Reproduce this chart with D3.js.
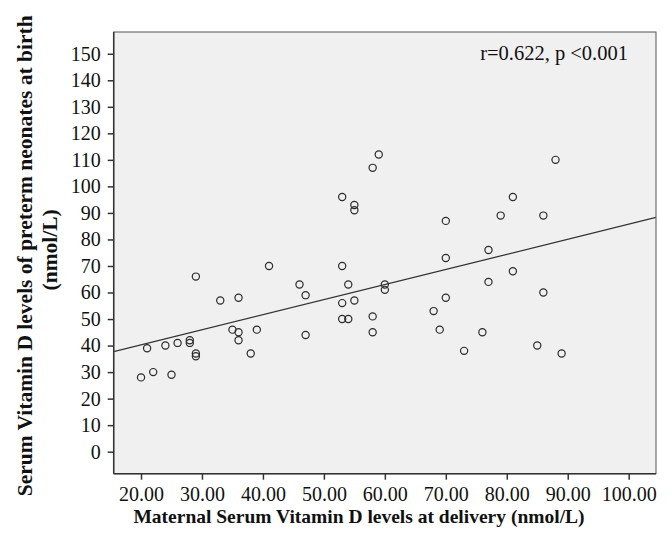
<!DOCTYPE html>
<html>
<head>
<meta charset="utf-8">
<script src="https://cdn.jsdelivr.net/npm/d3@7"></script>
<style>
  html, body { margin: 0; padding: 0; background: #fff; }
  svg { display: block; }
  text { font-family: "Liberation Serif", "Times New Roman", serif; fill: #111; }
</style>
</head>
<body>
<svg id="chart" width="672" height="551"></svg>
<script>
// Maternal serum vitamin D (x) and neonatal serum vitamin D (y), nmol/L
const maternal = [53,55,55,58,59,88,81,70,79,86,77,70,
  21,20,22,24,25,26,28,28,29,29,29,33,36,35,36,36,38,39,41,46,47,47,
  53,54,53,55,53,54,58,58,60,60,
  81,77,86,70,68,69,76,73,85,89];
const neonatal = [96,93,91,107,112,110,96,87,89,89,76,73,
  39,28,30,40,29,41,42,41,66,37,36,57,58,46,45,42,37,46,70,63,59,44,
  70,63,56,57,50,50,51,45,63,61,
  68,64,60,58,53,46,45,38,40,37];
const xTicks = [20,30,40,50,60,70,80,90,100];
const yTicks = [0,10,20,30,40,50,60,70,80,90,100,110,120,130,140,150];
const fitLine = { intercept: 28.9, slope: 0.5685 };
const annotation = "r=0.622, p <0.001";
const xTitle = "Maternal Serum Vitamin D levels at delivery (nmol/L)";
const yTitle = ["Serum Vitamin D levels of preterm neonates at birth", "(nmol/L)"];

const svg = d3.select("#chart");
const L = 113.7, R = 656, T = 32, B = 473.7;
const xDom = [15.52, 104.48], yDom = [-8.3, 158.2];
const x = d3.scaleLinear().domain(xDom).range([L, R]);
const y = d3.scaleLinear().domain(yDom).range([B, T]);

svg.append("rect").attr("x", L).attr("y", T).attr("width", R - L).attr("height", B - T)
  .attr("fill", "#f0f0f0").attr("stroke", "none");

// regression line
svg.append("line")
  .attr("x1", x(xDom[0])).attr("y1", y(fitLine.intercept + fitLine.slope * xDom[0]))
  .attr("x2", x(xDom[1])).attr("y2", y(fitLine.intercept + fitLine.slope * xDom[1]))
  .attr("stroke", "#333").attr("stroke-width", 1.2);

// points
svg.append("g").selectAll("circle").data(maternal.map((m, i) => [m, neonatal[i]]))
  .join("circle")
  .attr("cx", d => x(d[0])).attr("cy", d => y(d[1])).attr("r", 3.6)
  .attr("fill", "none").attr("stroke", "#2a2a2a").attr("stroke-width", 1.2);

// frame
svg.append("rect").attr("x", L).attr("y", T).attr("width", R - L).attr("height", B - T)
  .attr("fill", "none").attr("stroke", "#555").attr("stroke-width", 1);
svg.append("line").attr("x1", L).attr("x2", L).attr("y1", T).attr("y2", B).attr("stroke", "#333").attr("stroke-width", 1.5);
svg.append("line").attr("x1", L).attr("x2", R).attr("y1", B).attr("y2", B).attr("stroke", "#333").attr("stroke-width", 1.5);

// axes
const xAxis = svg.append("g").attr("transform", `translate(0,${B})`)
  .call(d3.axisBottom(x).tickValues(xTicks).tickFormat(d3.format(".2f")).tickSize(6).tickPadding(7));
const yAxis = svg.append("g").attr("transform", `translate(${L},0)`)
  .call(d3.axisLeft(y).tickValues(yTicks).tickSize(6).tickPadding(7));
[xAxis, yAxis].forEach(g => {
  g.select(".domain").remove();
  g.selectAll(".tick line").attr("stroke", "#333").attr("stroke-width", 1.5);
  g.selectAll(".tick text").attr("font-size", 20).attr("fill", "#111")
    .attr("font-family", "Liberation Serif, serif");
});

// annotation
svg.append("text").attr("x", 628).attr("y", 60).attr("text-anchor", "end")
  .attr("font-size", 20.5).text(annotation);

// titles
svg.append("text").attr("x", 359).attr("y", 523).attr("text-anchor", "middle")
  .attr("font-size", 19.5).attr("font-weight", "bold").text(xTitle);
const cy = (T + B) / 2;
svg.append("text").attr("transform", `translate(32,${cy + 3}) rotate(-90)`).attr("text-anchor", "middle")
  .attr("font-size", 21.5).attr("font-weight", "bold").text(yTitle[0]);
svg.append("text").attr("transform", `translate(57,${cy - 3}) rotate(-90)`).attr("text-anchor", "middle")
  .attr("font-size", 21.5).attr("font-weight", "bold").text(yTitle[1]);
</script>
</body>
</html>
